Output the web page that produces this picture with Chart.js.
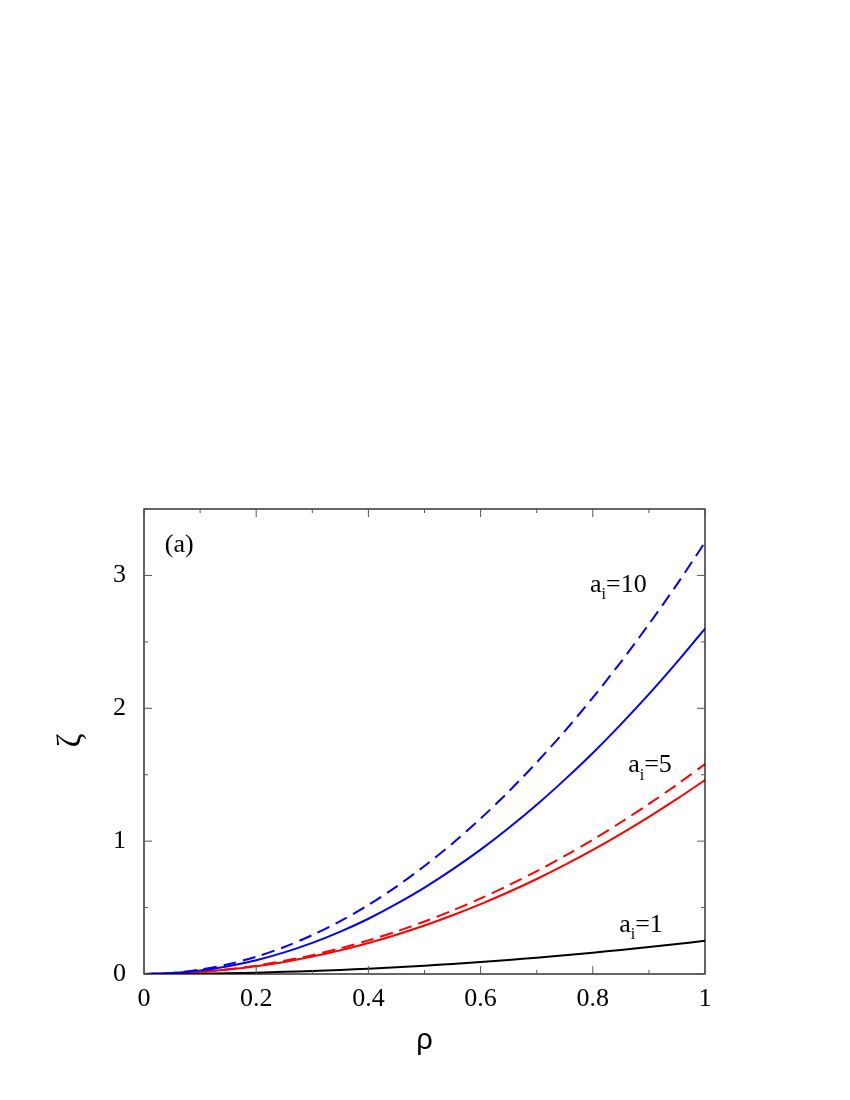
<!DOCTYPE html>
<html><head><meta charset="utf-8">
<script src="https://cdn.jsdelivr.net/npm/chart.js@4/dist/chart.umd.min.js"></script>
<style>html,body{margin:0;padding:0;background:#fff}#wrap{width:850px;height:1100px}</style>
</head><body><div id="wrap"><canvas id="c" width="850" height="1100"></canvas></div>
<script>
const rho = [0,0.05,0.1,0.15,0.2,0.25,0.3,0.35,0.4,0.45,0.5,0.55,0.6,0.65,0.7,0.75,0.8,0.85,0.9,0.95,1];
const blueDashed = [0,0.008,0.033,0.073,0.13,0.203,0.293,0.398,0.52,0.658,0.813,0.983,1.17,1.373,1.593,1.828,2.08,2.348,2.633,2.933,3.25];
const blueSolid = [0,0.007,0.026,0.059,0.104,0.163,0.234,0.319,0.416,0.527,0.65,0.787,0.936,1.099,1.274,1.463,1.664,1.879,2.106,2.347,2.6];
const redDashed = [0,0.004,0.016,0.036,0.063,0.099,0.142,0.194,0.253,0.32,0.395,0.478,0.569,0.668,0.774,0.889,1.011,1.142,1.28,1.426,1.58];
const redSolid = [0,0.004,0.015,0.033,0.058,0.091,0.131,0.179,0.234,0.296,0.365,0.442,0.526,0.617,0.715,0.821,0.934,1.055,1.183,1.318,1.46];
const black1 = [0,0.001,0.003,0.006,0.01,0.016,0.023,0.031,0.04,0.051,0.063,0.076,0.09,0.106,0.123,0.141,0.16,0.181,0.203,0.226,0.25];
const xTicks = [0,0.2,0.4,0.6,0.8,1];
const yTicks = [0,1,2,3];
const yTitle = 'ζ';
const labels = [
  {text:'(a)', sub:'', x:0.037, y:3.23},
  {text:'a', sub:'i', rest:'=10', x:0.795, y:2.93},
  {text:'a', sub:'i', rest:'=5', x:0.863, y:1.57},
  {text:'a', sub:'i', rest:'=1', x:0.847, y:0.37}
];
const pts = arr => arr.map((v,i)=>({x:rho[i], y:v}));
const serif = "'Liberation Serif','DejaVu Serif',serif";
const sans = "'Liberation Sans','DejaVu Sans',sans-serif";

const framePlugin = {
  id:'frame',
  afterDraw(chart){
    const {ctx, chartArea:a, scales:{x, y}} = chart;
    ctx.save();
    ctx.strokeStyle = '#000'; ctx.lineWidth = 1.2;
    ctx.strokeRect(a.left, a.top, a.right-a.left, a.bottom-a.top);
    ctx.strokeStyle = '#555'; ctx.lineWidth = 1;
    for (let i=0;i<=10;i++){
      const v = i/10, px = x.getPixelForValue(v), L = (i%2===0)?8:4;
      ctx.beginPath(); ctx.moveTo(px,a.bottom); ctx.lineTo(px,a.bottom-L);
      ctx.moveTo(px,a.top); ctx.lineTo(px,a.top+L); ctx.stroke();
    }
    for (let i=0;i<=7;i++){
      const v = i/2, py = y.getPixelForValue(v), L = (i%2===0)?8:4;
      ctx.beginPath(); ctx.moveTo(a.left,py); ctx.lineTo(a.left+L,py);
      ctx.moveTo(a.right,py); ctx.lineTo(a.right-L,py); ctx.stroke();
    }
    ctx.fillStyle = '#000'; ctx.textBaseline = 'middle'; ctx.textAlign='left';
    labels.forEach(l=>{
      let px = x.getPixelForValue(l.x), py = y.getPixelForValue(l.y);
      ctx.font = '26px ' + serif;
      ctx.fillText(l.text, px, py);
      if (l.sub){
        px += ctx.measureText(l.text).width;
        ctx.font = '16px ' + serif;
        ctx.fillText(l.sub, px, py+10);
        px += ctx.measureText(l.sub).width;
        ctx.font = '26px ' + serif;
        ctx.fillText(l.rest, px, py);
      }
    });
    // rotated y-axis title
    ctx.save();
    ctx.translate(y.left + 71, (a.top + a.bottom)/2 - 1);
    ctx.rotate(-Math.PI/2);
    ctx.textAlign = 'center'; ctx.textBaseline = 'middle';
    ctx.font = '34px ' + serif;
    ctx.fillText(yTitle, 0, 0);
    ctx.restore();
    ctx.restore();
  }
};

const ds = (data,color,dash)=>({data:pts(data), borderColor:color, borderWidth:2, borderDash:dash, pointRadius:0, fill:false, tension:0.3});

new Chart(document.getElementById('c'), {
  type:'line',
  data:{datasets:[
    ds(blueDashed,'#0000ff',[13,7]),
    ds(blueSolid,'#0000ff',[]),
    ds(redDashed,'#ff0000',[13,7]),
    ds(redSolid,'#ff0000',[]),
    ds(black1,'#000000',[])
  ]},
  options:{
    responsive:false, animation:false, devicePixelRatio:1,
    layout:{padding:{top:509, right:145, left:0, bottom:0}},
    plugins:{legend:{display:false}, tooltip:{enabled:false}},
    scales:{
      x:{type:'linear', min:0, max:1,
        afterFit(s){ s.height = 126; },
        afterBuildTicks(s){ s.ticks = xTicks.map(v=>({value:v})); },
        grid:{display:false, drawTicks:false}, border:{display:false},
        ticks:{padding:10, color:'#000', font:{family:serif, size:26}, maxRotation:0,
          callback:v=>String(v)},
        title:{display:true, text:'ρ', color:'#000', font:{family:sans, size:29}, padding:{top:0, bottom:42}}
      },
      y:{type:'linear', min:0, max:3.5,
        afterFit(s){ s.width = 144; },
        afterBuildTicks(s){ s.ticks = yTicks.map(v=>({value:v})); },
        grid:{display:false, drawTicks:false}, border:{display:false},
        ticks:{padding:18, color:'#000', font:{family:serif, size:26}, callback:v=>String(v)},
        title:{display:false}
      }
    }
  },
  plugins:[framePlugin]
});
</script></body></html>
